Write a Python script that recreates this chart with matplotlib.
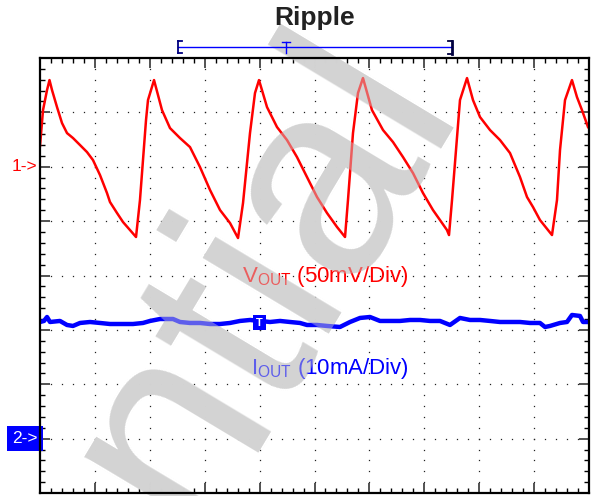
import numpy as np
import matplotlib
matplotlib.use("Agg")
from matplotlib import pyplot as plt
from matplotlib.lines import Line2D

plt.rcParams['font.family'] = ['Liberation Sans', 'DejaVu Sans']

# time axis in divisions (10 div), amplitude in divisions (8 div, centre = 0)
vout_t = [0.000, 0.055, 0.128, 0.173, 0.219, 0.310, 0.401, 0.492, 0.601, 0.729,
          0.856, 0.965, 1.093, 1.220, 1.275, 1.403, 1.512, 1.639, 1.749,
          1.821, 1.931, 1.967, 2.077,
          2.222, 2.368, 2.550, 2.732, 2.914, 3.097, 3.279, 3.461, 3.607,
          3.698, 3.825, 3.916, 3.989,
          4.135, 4.317, 4.499, 4.681, 4.863, 5.046, 5.228, 5.410, 5.556,
          5.610, 5.701, 5.792, 5.883,
          6.047, 6.248, 6.430, 6.612, 6.794, 6.976, 7.158, 7.413, 7.450,
          7.505, 7.650, 7.778,
          7.887, 8.015, 8.197, 8.379, 8.561, 8.743, 8.871, 8.980, 9.107, 9.253, 9.326,
          9.417, 9.472, 9.563, 9.690,
          9.781, 9.872, 9.982]
vout = [2.381, 3.042, 3.410, 3.594, 3.410, 3.097, 2.803, 2.619, 2.528, 2.399,
        2.270, 2.123, 1.847, 1.517, 1.351, 1.149, 0.983, 0.836, 0.708,
        1.388, 2.858, 3.226, 3.594,
        3.042, 2.711, 2.528, 2.362, 1.995, 1.572, 1.204, 0.965, 0.689,
        1.333, 2.619, 3.355, 3.594,
        3.097, 2.730, 2.491, 2.178, 1.811, 1.443, 1.149, 0.892, 0.708,
        1.388, 2.619, 3.355, 3.631,
        3.042, 2.675, 2.454, 2.178, 1.884, 1.517, 1.204, 0.836, 0.744,
        1.388, 3.226, 3.631,
        3.226, 2.914, 2.675, 2.491, 2.252, 1.811, 1.443, 1.259, 1.020, 0.836, 0.744,
        1.388, 2.307, 3.226, 3.594,
        3.281, 3.042, 2.730]

iout_t = [0.000, 0.073, 0.128, 0.182, 0.364, 0.492, 0.601, 0.729, 0.911, 1.093,
          1.275, 1.457, 1.694, 1.876, 2.004, 2.186, 2.423, 2.550, 2.732, 2.914,
          3.097, 3.279, 3.461, 3.643, 3.825, 4.007, 4.189, 4.372, 4.554, 4.736,
          4.863, 5.046, 5.228, 5.464, 5.647, 5.829, 6.011, 6.193, 6.375, 6.557,
          6.740, 6.922, 7.104, 7.286, 7.468, 7.650, 7.832, 8.015, 8.197, 8.379,
          8.561, 8.743, 8.925, 9.107, 9.199, 9.290, 9.472, 9.599, 9.690, 9.836,
          9.891, 10.000]
iout = [-0.855, -0.836, -0.763, -0.855, -0.836, -0.910, -0.928, -0.873, -0.855, -0.873,
        -0.892, -0.892, -0.892, -0.873, -0.836, -0.800, -0.800, -0.855, -0.873, -0.873,
        -0.892, -0.892, -0.873, -0.836, -0.818, -0.836, -0.855, -0.836, -0.855, -0.873,
        -0.910, -0.910, -0.928, -0.947, -0.855, -0.781, -0.763, -0.836, -0.836, -0.836,
        -0.818, -0.818, -0.836, -0.836, -0.910, -0.781, -0.818, -0.818, -0.836, -0.855,
        -0.855, -0.855, -0.873, -0.873, -0.947, -0.928, -0.873, -0.855, -0.726, -0.744,
        -0.855, -0.855]

ch1_level = 2.0
ch2_level = -3.0
trig_t = 4.0

fig = plt.figure(figsize=(5.97, 4.96), dpi=100)
ax = fig.add_axes([40 / 597, 3 / 496, 549 / 597, 435 / 496])
ax.set_xlim(0, 10)
ax.set_ylim(-4, 4)

ax.set_xticks(np.arange(0, 11, 1))
ax.set_yticks(np.arange(-4, 5, 1))
ax.set_xticks(np.arange(0, 10.01, 0.2), minor=True)
ax.set_yticks(np.arange(-4, 4.01, 0.2), minor=True)
ax.tick_params(which='both', direction='in', top=True, right=True,
               labelbottom=False, labelleft=False)
ax.tick_params(which='major', length=7, width=1.3, color='#444444')
ax.tick_params(which='minor', length=3.5, width=1.0)
for sp in ax.spines.values():
    sp.set_linewidth(1.6)
    sp.set_zorder(12)

# dotted graticule
for gx in range(1, 10):
    yy = np.arange(-4, 4.01, 0.2)
    ax.plot(np.full_like(yy, gx), yy, ls='none', marker='s', ms=0.9, mew=0,
            color='#222222', zorder=1)
for gy in range(-3, 4):
    xx = np.arange(0, 10.01, 0.2)
    ax.plot(xx, np.full_like(xx, gy), ls='none', marker='s', ms=0.9, mew=0,
            color='#222222', zorder=1)

ax.plot(vout_t, vout, color='#ff0000', lw=1.8, zorder=3)
ax.plot(iout_t, iout, color='#0000ff', lw=3.2, zorder=3)

# trigger marker on the current trace
ax.text(trig_t, iout[25] - 0.03, 'T', color='white', fontsize=8, fontweight='bold',
        ha='center', va='center', zorder=4,
        bbox=dict(boxstyle='square,pad=0.25', fc='#0000ff', ec='none'))

ax.text(3.68, -0.12, r'V$_{\mathregular{OUT}}$ (50mV/Div)', color='#ff0000',
        fontsize=16, ha='left', va='baseline', zorder=4)
ax.text(3.84, -1.81, r'I$_{\mathregular{OUT}}$ (10mA/Div)', color='#0000ff',
        fontsize=16, ha='left', va='baseline', zorder=4)

# channel reference markers
ytr = ax.get_yaxis_transform()
ax.text(-0.051, ch1_level, '1->', color='#ff0000', fontsize=12.5, ha='left', va='center',
        transform=ytr, clip_on=False)
ax.text(-0.004, ch2_level, '2->', color='white', fontsize=12.5, ha='right', va='center',
        transform=ytr, clip_on=False,
        bbox=dict(boxstyle='square,pad=0.28', fc='#0000ff', ec='none'))

fig.text(315 / 597, 1 - 18 / 496, 'Ripple', fontsize=19, fontweight='bold',
         ha='center', va='center', color='#222222')

# record window bar above the graticule
def fl(x0, y0, x1, y1, **kw):
    fig.add_artist(Line2D([x0 / 597, x1 / 597], [1 - y0 / 496, 1 - y1 / 496], **kw))

fl(178, 47, 452, 47, color='#0000ff', lw=1.0)
fl(178, 41, 178, 53, color='#000080', lw=1.3)
fl(178, 41, 182, 41, color='#000080', lw=1.3)
fl(178, 53, 182, 53, color='#000080', lw=1.3)
fl(452, 41, 452, 54, color='#000040', lw=2.0)
fl(448, 41, 452, 41, color='#000040', lw=1.3)
fl(448, 54, 452, 54, color='#000040', lw=1.3)
fl(286, 42, 286, 53, color='#0000ff', lw=1.0)
fl(282, 42, 290, 42, color='#0000ff', lw=1.0)

# watermark: opaque layer over the graticule, translucent layer over the traces
wm = dict(fontsize=200, color='#d3d3d3', rotation=59, rotation_mode='anchor',
          ha='right', va='baseline', transform=fig.transFigure, clip_on=False)
ax.text(458 / 597, 1 - 98 / 496, 'Confidential', zorder=2, **wm)
ax.text(458 / 597, 1 - 98 / 496, 'Confidential', zorder=10, alpha=0.45, **wm)

fig.savefig('out.png', dpi=100)
